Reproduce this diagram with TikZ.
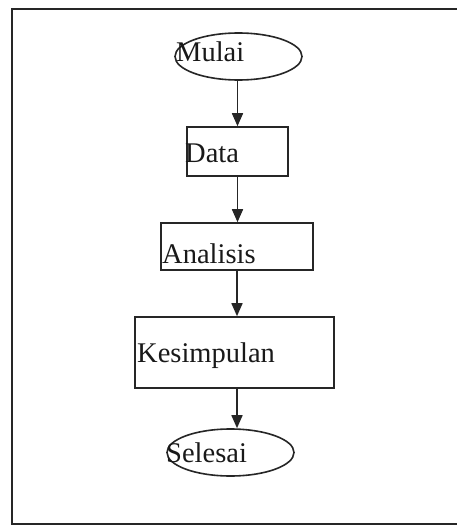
\documentclass[tikz,border=0pt]{standalone}
\usepackage{fontspec}
\setmainfont{Liberation Serif}
\usetikzlibrary{shapes.geometric,arrows.meta}
\begin{document}
\begin{tikzpicture}[x=1pt,y=-1pt,
  shp/.style={draw=black!85, line width=1.6pt, inner sep=0pt},
  ell/.style={shp, ellipse},
  box/.style={shp, rectangle},
  txt/.style={anchor=base west, inner sep=0pt, font=\fontsize{28.5}{30}\selectfont, text=black!90},
  arr/.style={draw=black!85, line width=1.6pt, -{Triangle[length=13pt,width=11pt]}}]
\useasboundingbox (0,0) rectangle (457,527);
\fill[white] (0,0) rectangle (457,527);
\begin{scope}
\clip (0,0) rectangle (457,527);
\draw[line width=1.6pt, black!85] (470,9) -- (12,9) -- (12,524) -- (470,524);
\end{scope}
\node[ell, minimum width=127pt, minimum height=47pt] (mulai) at (238.5,56.5) {};
\node[box, minimum width=101pt, minimum height=49pt] (data) at (237.5,151.5) {};
\node[box, minimum width=152pt, minimum height=47pt] (anal) at (237,246.5) {};
\node[box, minimum width=199pt, minimum height=71pt] (kes) at (234.5,352.5) {};
\node[ell, minimum width=127pt, minimum height=47pt] (sel) at (230.5,452.5) {};
\node[txt] (tmulai) at (176,62) {Mulai};
\node[txt] (tdata) at (185,162) {Data};
\node[txt] (tanal) at (162,263) {Analisis};
\node[txt] (tkes) at (137,362) {Kesimpulan};
\node[txt] (tsel) at (166,462) {Selesai};
\draw[arr] (mulai.south -| data.north) -- (data.north);
\draw[arr] (data.south) -- (data.south |- anal.north);
\draw[arr] (anal.south) -- (anal.south |- kes.north);
\draw[arr] (kes.south -| anal.south) -- (anal.south |- sel.north);
\end{tikzpicture}
\end{document}
